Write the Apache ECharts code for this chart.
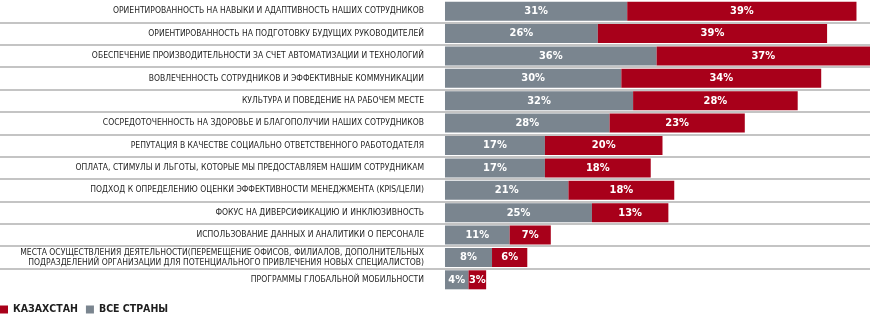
<!DOCTYPE html>
<html><head><meta charset="utf-8">
<script src="https://cdn.jsdelivr.net/npm/echarts@6/dist/echarts.min.js"></script>
<style>html,body{margin:0;padding:0;background:#fff}#c{width:870px;height:330px}</style>
</head><body><div id="c"></div>
<script>
const categories = [
  'ОРИЕНТИРОВАННОСТЬ НА НАВЫКИ И АДАПТИВНОСТЬ НАШИХ СОТРУДНИКОВ',
  'ОРИЕНТИРОВАННОСТЬ НА ПОДГОТОВКУ БУДУЩИХ РУКОВОДИТЕЛЕЙ',
  'ОБЕСПЕЧЕНИЕ ПРОИЗВОДИТЕЛЬНОСТИ ЗА СЧЕТ АВТОМАТИЗАЦИИ И ТЕХНОЛОГИЙ',
  'ВОВЛЕЧЕННОСТЬ СОТРУДНИКОВ И ЭФФЕКТИВНЫЕ КОММУНИКАЦИИ',
  'КУЛЬТУРА И ПОВЕДЕНИЕ НА РАБОЧЕМ МЕСТЕ',
  'СОСРЕДОТОЧЕННОСТЬ НА ЗДОРОВЬЕ И БЛАГОПОЛУЧИИ НАШИХ СОТРУДНИКОВ',
  'РЕПУТАЦИЯ В КАЧЕСТВЕ СОЦИАЛЬНО ОТВЕТСТВЕННОГО РАБОТОДАТЕЛЯ',
  'ОПЛАТА, СТИМУЛЫ И ЛЬГОТЫ, КОТОРЫЕ МЫ ПРЕДОСТАВЛЯЕМ НАШИМ СОТРУДНИКАМ',
  'ПОДХОД К ОПРЕДЕЛЕНИЮ ОЦЕНКИ ЭФФЕКТИВНОСТИ МЕНЕДЖМЕНТА (KPIS/ЦЕЛИ)',
  'ФОКУС НА ДИВЕРСИФИКАЦИЮ И ИНКЛЮЗИВНОСТЬ',
  'ИСПОЛЬЗОВАНИЕ ДАННЫХ И АНАЛИТИКИ О ПЕРСОНАЛЕ',
  'МЕСТА ОСУЩЕСТВЛЕНИЯ ДЕЯТЕЛЬНОСТИ(ПЕРЕМЕЩЕНИЕ ОФИСОВ, ФИЛИАЛОВ, ДОПОЛНИТЕЛЬНЫХ\nПОДРАЗДЕЛЕНИЙ ОРГАНИЗАЦИИ ДЛЯ ПОТЕНЦИАЛЬНОГО ПРИВЛЕЧЕНИЯ НОВЫХ СПЕЦИАЛИСТОВ)',
  'ПРОГРАММЫ ГЛОБАЛЬНОЙ МОБИЛЬНОСТИ'
];
const allCountries = [31, 26, 36, 30, 32, 28, 17, 17, 21, 25, 11, 8, 4];
const kazakhstan   = [39, 39, 37, 34, 28, 23, 20, 18, 18, 13, 7, 6, 3];
const seriesNames = ['ВСЕ СТРАНЫ', 'КАЗАХСТАН'];

const FONT = '"Liberation Sans Narrow","DejaVu Sans Condensed","Noto Sans",sans-serif';
const GREY = '#7a858f';
const RED = '#a8001a';
const SEP = '#c4c4c4';
const NONE = 'rgba(0,0,0,0)';
// separators only between rows: hide the outer top and bottom boundaries
const sepColors = [NONE].concat(categories.slice(1).map(() => SEP), [NONE]);

const chart = echarts.init(document.getElementById('c'), null, {renderer: 'canvas'});
const valueLabel = {
  show: true, position: 'inside', color: '#fff', fontFamily: FONT,
  fontWeight: 'bold', fontSize: 11, formatter: p => p.value + '%'
};
chart.setOption({
  animation: false,
  backgroundColor: '#fff',
  grid: {left: 0, right: 0, top: 0, height: 291, containLabel: false, outerBoundsMode: 'none'},
  xAxis: {
    type: 'value', min: -75.7, max: 72.3,
    show: false
  },
  yAxis: {
    type: 'category', data: categories, inverse: true,
    offset: -445,
    axisLine: {show: false},
    axisTick: {show: false},
    axisLabel: {
      margin: 21, color: '#1e1e1e', fontFamily: FONT, fontSize: 8.5, lineHeight: 10,
      align: 'right'
    },
    splitLine: {
      show: true,
      lineStyle: {color: sepColors, width: 2}
    }
  },
  legend: {
    left: 0, top: 304, padding: 0, itemWidth: 8, itemHeight: 8, itemGap: 8,
    icon: 'rect',
    data: [seriesNames[1], seriesNames[0]],
    textStyle: {fontFamily: FONT, fontSize: 10.5, fontWeight: 'bold', color: '#1e1e1e'}
  },
  series: [
    {
      name: seriesNames[0], type: 'bar', stack: 'total', data: allCountries,
      barWidth: 19, itemStyle: {color: GREY}, label: valueLabel
    },
    {
      name: seriesNames[1], type: 'bar', stack: 'total', data: kazakhstan,
      barWidth: 19, itemStyle: {color: RED}, label: valueLabel
    }
  ]
});
</script>
</body></html>
